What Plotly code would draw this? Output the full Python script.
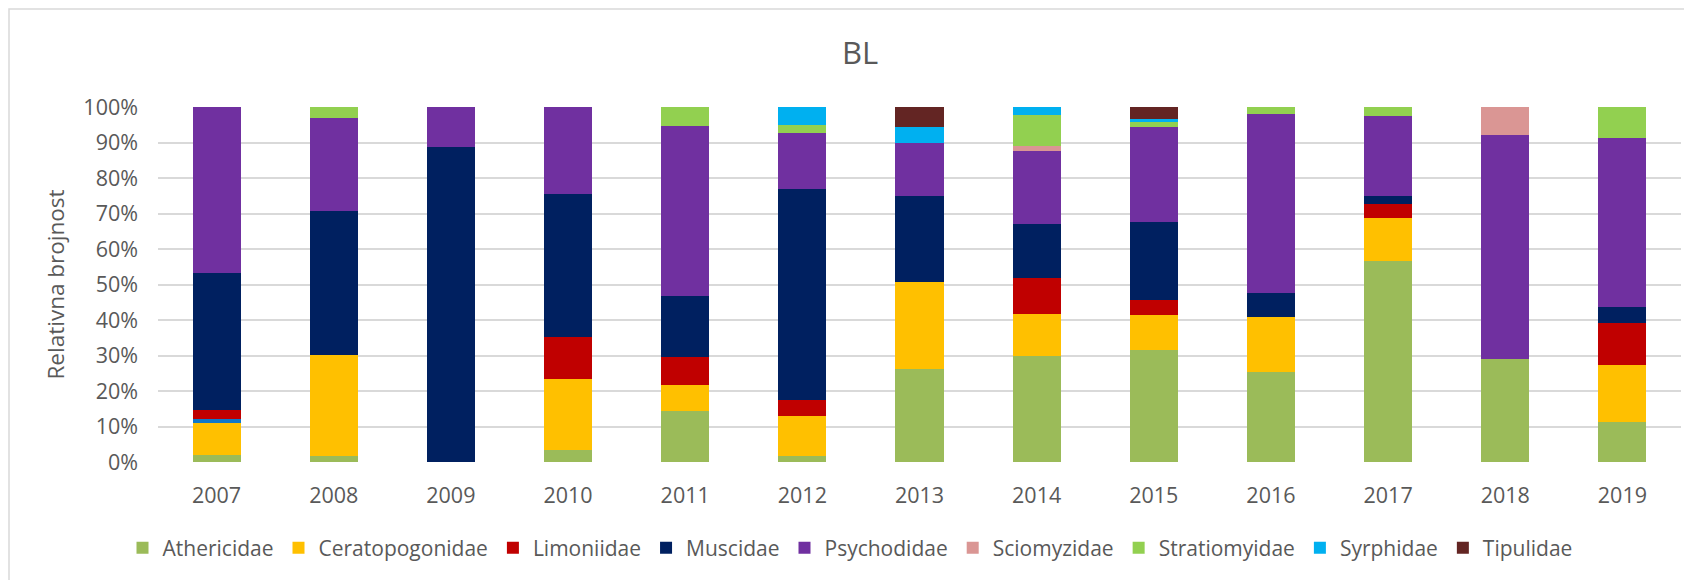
import plotly.graph_objects as go

years = ["2007", "2008", "2009", "2010", "2011", "2012", "2013",
         "2014", "2015", "2016", "2017", "2018", "2019"]

athericidae     = [1.9, 1.6, 0.0, 3.4, 14.3, 1.6, 26.2, 29.9, 31.6, 25.4, 56.6, 29.1, 11.4]
ceratopogonidae = [9.1, 28.5, 0.0, 19.9, 7.5, 11.5, 24.5, 11.9, 9.7, 15.5, 12.2, 0.0, 15.8]
unlisted        = [1.0, 0.0, 0.0, 0.0, 0.0, 0.0, 0.0, 0.0, 0.0, 0.0, 0.0, 0.0, 0.0]
limoniidae      = [2.6, 0.0, 0.0, 11.9, 7.7, 4.5, 0.0, 10.0, 4.4, 0.0, 4.0, 0.0, 12.0]
muscidae        = [38.6, 40.5, 88.7, 40.2, 17.4, 59.2, 24.3, 15.2, 22.0, 6.6, 2.2, 0.0, 4.4]
psychodidae     = [46.8, 26.4, 11.3, 24.6, 47.7, 15.9, 14.9, 20.7, 26.8, 50.6, 22.4, 62.9, 47.7]
sciomyzidae     = [0.0, 0.0, 0.0, 0.0, 0.0, 0.0, 0.0, 1.4, 0.0, 0.0, 0.0, 8.0, 0.0]
stratiomyidae   = [0.0, 3.0, 0.0, 0.0, 5.4, 2.3, 0.0, 8.6, 1.4, 1.9, 2.6, 0.0, 8.7]
syrphidae       = [0.0, 0.0, 0.0, 0.0, 0.0, 5.0, 4.6, 2.3, 0.7, 0.0, 0.0, 0.0, 0.0]
tipulidae       = [0.0, 0.0, 0.0, 0.0, 0.0, 0.0, 5.5, 0.0, 3.4, 0.0, 0.0, 0.0, 0.0]

y_ticks = [0, 10, 20, 30, 40, 50, 60, 70, 80, 90, 100]
y_tick_text = [f"{v}%" for v in y_ticks]

series = [
    ("Athericidae", athericidae, "#9BBB59", True),
    ("Ceratopogonidae", ceratopogonidae, "#FFC000", True),
    ("", unlisted, "#0E78C8", False),
    ("Limoniidae", limoniidae, "#C00000", True),
    ("Muscidae", muscidae, "#002060", True),
    ("Psychodidae", psychodidae, "#7030A0", True),
    ("Sciomyzidae", sciomyzidae, "#DA9694", True),
    ("Stratiomyidae", stratiomyidae, "#92D050", True),
    ("Syrphidae", syrphidae, "#00B0F0", True),
    ("Tipulidae", tipulidae, "#632523", True),
]

FONT = "Open Sans"
GREY = "#595959"

# figure coordinates (page body adds an 8px offset)
W, H = 1684, 572
PL, PR, PT, PB = 150, 1673, 99, 454
PW, PH = PR - PL, PB - PT

fig = go.Figure()
for name, vals, color, show in series:
    fig.add_trace(go.Bar(
        x=years, y=vals, name=name, marker=dict(color=color, line=dict(width=0)),
        showlegend=show, hoverinfo="x+y+name" if show else "skip",
    ))

fig.update_layout(
    barmode="stack",
    barnorm="percent",
    bargap=0.59,
    width=W, height=H,
    margin=dict(l=PL, r=W - PR, t=PT, b=H - PB, autoexpand=False),
    paper_bgcolor="white", plot_bgcolor="white",
    font=dict(family=FONT, color=GREY, size=21),
    title=dict(text="BL", x=(852 - PL) / PW, xref="paper", xanchor="center",
               y=1 - 45 / H, yanchor="middle", font=dict(size=31, color=GREY, family=FONT)),
    legend=dict(orientation="h", x=(842 - PL) / PW, xanchor="center",
                y=(PB - 540) / PH, yanchor="middle", font=dict(size=21, color=GREY),
                traceorder="normal", itemwidth=30, tracegroupgap=0),
    shapes=[dict(type="rect", xref="paper", yref="paper",
                 x0=(1 - PL) / PW, x1=(W + 20 - PL) / PW,
                 y0=(PB - H - 20) / PH, y1=(PB - 1) / PH,
                 line=dict(color="#D9D9D9", width=1.5), layer="below")],
)
fig.update_xaxes(showgrid=False, showline=False, ticks="", ticklabelstandoff=18,
                 tickfont=dict(size=21.5, color=GREY))
fig.update_yaxes(range=[0, 100], tickmode="array", tickvals=y_ticks, ticktext=y_tick_text,
                 showgrid=True, gridcolor="#D9D9D9", gridwidth=2, zeroline=False,
                 showline=False, ticks="", ticklabelstandoff=19,
                 tickfont=dict(size=21.5, color=GREY),
                 title=dict(text="Relativna brojnost", standoff=12,
                            font=dict(size=22.5, color=GREY)))

fig.write_html("out.html")
